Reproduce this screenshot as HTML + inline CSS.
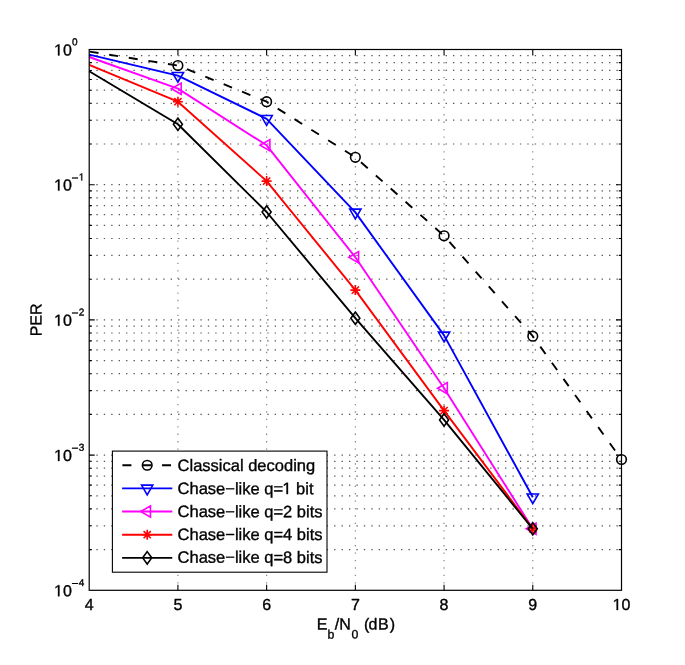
<!DOCTYPE html><html><head><meta charset="utf-8"><style>html,body{margin:0;padding:0;background:#fff;}svg{display:block;will-change:transform;}text{font-family:"Liberation Sans",sans-serif;fill:#000;text-rendering:geometricPrecision;stroke:#000;stroke-width:0.35px;}</style></head><body>
<svg width="685" height="665" viewBox="0 0 685 665">
<rect width="685" height="665" fill="#fff"/>
<g stroke="#555" stroke-width="1.2" fill="none"><line x1="89.20" y1="184.70" x2="621.50" y2="184.70" stroke-dasharray="1.35 6.08" stroke-dashoffset="0.275"/><line x1="89.20" y1="144.00" x2="621.50" y2="144.00" stroke-dasharray="1.35 6.08" stroke-dashoffset="0.275"/><line x1="89.20" y1="120.19" x2="621.50" y2="120.19" stroke-dasharray="1.35 6.08" stroke-dashoffset="0.275"/><line x1="89.20" y1="103.30" x2="621.50" y2="103.30" stroke-dasharray="1.35 6.08" stroke-dashoffset="0.275"/><line x1="89.20" y1="90.20" x2="621.50" y2="90.20" stroke-dasharray="1.35 6.08" stroke-dashoffset="0.275"/><line x1="89.20" y1="79.49" x2="621.50" y2="79.49" stroke-dasharray="1.35 6.08" stroke-dashoffset="0.275"/><line x1="89.20" y1="70.44" x2="621.50" y2="70.44" stroke-dasharray="1.35 6.08" stroke-dashoffset="0.275"/><line x1="89.20" y1="62.60" x2="621.50" y2="62.60" stroke-dasharray="1.35 6.08" stroke-dashoffset="0.275"/><line x1="89.20" y1="55.69" x2="621.50" y2="55.69" stroke-dasharray="1.35 6.08" stroke-dashoffset="0.275"/><line x1="89.20" y1="319.90" x2="621.50" y2="319.90" stroke-dasharray="1.35 6.08" stroke-dashoffset="0.275"/><line x1="89.20" y1="279.20" x2="621.50" y2="279.20" stroke-dasharray="1.35 6.08" stroke-dashoffset="0.275"/><line x1="89.20" y1="255.39" x2="621.50" y2="255.39" stroke-dasharray="1.35 6.08" stroke-dashoffset="0.275"/><line x1="89.20" y1="238.50" x2="621.50" y2="238.50" stroke-dasharray="1.35 6.08" stroke-dashoffset="0.275"/><line x1="89.20" y1="225.40" x2="621.50" y2="225.40" stroke-dasharray="1.35 6.08" stroke-dashoffset="0.275"/><line x1="89.20" y1="214.69" x2="621.50" y2="214.69" stroke-dasharray="1.35 6.08" stroke-dashoffset="0.275"/><line x1="89.20" y1="205.64" x2="621.50" y2="205.64" stroke-dasharray="1.35 6.08" stroke-dashoffset="0.275"/><line x1="89.20" y1="197.80" x2="621.50" y2="197.80" stroke-dasharray="1.35 6.08" stroke-dashoffset="0.275"/><line x1="89.20" y1="190.89" x2="621.50" y2="190.89" stroke-dasharray="1.35 6.08" stroke-dashoffset="0.275"/><line x1="89.20" y1="455.10" x2="621.50" y2="455.10" stroke-dasharray="1.35 6.08" stroke-dashoffset="0.275"/><line x1="89.20" y1="414.40" x2="621.50" y2="414.40" stroke-dasharray="1.35 6.08" stroke-dashoffset="0.275"/><line x1="89.20" y1="390.59" x2="621.50" y2="390.59" stroke-dasharray="1.35 6.08" stroke-dashoffset="0.275"/><line x1="89.20" y1="373.70" x2="621.50" y2="373.70" stroke-dasharray="1.35 6.08" stroke-dashoffset="0.275"/><line x1="89.20" y1="360.60" x2="621.50" y2="360.60" stroke-dasharray="1.35 6.08" stroke-dashoffset="0.275"/><line x1="89.20" y1="349.89" x2="621.50" y2="349.89" stroke-dasharray="1.35 6.08" stroke-dashoffset="0.275"/><line x1="89.20" y1="340.84" x2="621.50" y2="340.84" stroke-dasharray="1.35 6.08" stroke-dashoffset="0.275"/><line x1="89.20" y1="333.00" x2="621.50" y2="333.00" stroke-dasharray="1.35 6.08" stroke-dashoffset="0.275"/><line x1="89.20" y1="326.09" x2="621.50" y2="326.09" stroke-dasharray="1.35 6.08" stroke-dashoffset="0.275"/><line x1="89.20" y1="549.60" x2="621.50" y2="549.60" stroke-dasharray="1.35 6.08" stroke-dashoffset="0.275"/><line x1="89.20" y1="525.79" x2="621.50" y2="525.79" stroke-dasharray="1.35 6.08" stroke-dashoffset="0.275"/><line x1="89.20" y1="508.90" x2="621.50" y2="508.90" stroke-dasharray="1.35 6.08" stroke-dashoffset="0.275"/><line x1="89.20" y1="495.80" x2="621.50" y2="495.80" stroke-dasharray="1.35 6.08" stroke-dashoffset="0.275"/><line x1="89.20" y1="485.09" x2="621.50" y2="485.09" stroke-dasharray="1.35 6.08" stroke-dashoffset="0.275"/><line x1="89.20" y1="476.04" x2="621.50" y2="476.04" stroke-dasharray="1.35 6.08" stroke-dashoffset="0.275"/><line x1="89.20" y1="468.20" x2="621.50" y2="468.20" stroke-dasharray="1.35 6.08" stroke-dashoffset="0.275"/><line x1="89.20" y1="461.29" x2="621.50" y2="461.29" stroke-dasharray="1.35 6.08" stroke-dashoffset="0.275"/></g>
<g stroke="#888" stroke-width="1.2" fill="none"><line x1="177.92" y1="590.30" x2="177.92" y2="49.50" stroke-dasharray="1.35 6.08" stroke-dashoffset="0.675"/><line x1="266.63" y1="590.30" x2="266.63" y2="49.50" stroke-dasharray="1.35 6.08" stroke-dashoffset="0.675"/><line x1="355.35" y1="590.30" x2="355.35" y2="49.50" stroke-dasharray="1.35 6.08" stroke-dashoffset="0.675"/><line x1="444.07" y1="590.30" x2="444.07" y2="49.50" stroke-dasharray="1.35 6.08" stroke-dashoffset="0.675"/><line x1="532.78" y1="590.30" x2="532.78" y2="49.50" stroke-dasharray="1.35 6.08" stroke-dashoffset="0.675"/></g>
<path d="M177.92 590.30v-5.5M177.92 49.50v5.5M266.63 590.30v-5.5M266.63 49.50v5.5M355.35 590.30v-5.5M355.35 49.50v5.5M444.07 590.30v-5.5M444.07 49.50v5.5M532.78 590.30v-5.5M532.78 49.50v5.5M89.20 184.70h5.5M621.50 184.70h-5.5M89.20 144.00h2.7M621.50 144.00h-2.7M89.20 120.19h2.7M621.50 120.19h-2.7M89.20 103.30h2.7M621.50 103.30h-2.7M89.20 90.20h2.7M621.50 90.20h-2.7M89.20 79.49h2.7M621.50 79.49h-2.7M89.20 70.44h2.7M621.50 70.44h-2.7M89.20 62.60h2.7M621.50 62.60h-2.7M89.20 55.69h2.7M621.50 55.69h-2.7M89.20 319.90h5.5M621.50 319.90h-5.5M89.20 279.20h2.7M621.50 279.20h-2.7M89.20 255.39h2.7M621.50 255.39h-2.7M89.20 238.50h2.7M621.50 238.50h-2.7M89.20 225.40h2.7M621.50 225.40h-2.7M89.20 214.69h2.7M621.50 214.69h-2.7M89.20 205.64h2.7M621.50 205.64h-2.7M89.20 197.80h2.7M621.50 197.80h-2.7M89.20 190.89h2.7M621.50 190.89h-2.7M89.20 455.10h5.5M621.50 455.10h-5.5M89.20 414.40h2.7M621.50 414.40h-2.7M89.20 390.59h2.7M621.50 390.59h-2.7M89.20 373.70h2.7M621.50 373.70h-2.7M89.20 360.60h2.7M621.50 360.60h-2.7M89.20 349.89h2.7M621.50 349.89h-2.7M89.20 340.84h2.7M621.50 340.84h-2.7M89.20 333.00h2.7M621.50 333.00h-2.7M89.20 326.09h2.7M621.50 326.09h-2.7M89.20 549.60h2.7M621.50 549.60h-2.7M89.20 525.79h2.7M621.50 525.79h-2.7M89.20 508.90h2.7M621.50 508.90h-2.7M89.20 495.80h2.7M621.50 495.80h-2.7M89.20 485.09h2.7M621.50 485.09h-2.7M89.20 476.04h2.7M621.50 476.04h-2.7M89.20 468.20h2.7M621.50 468.20h-2.7M89.20 461.29h2.7M621.50 461.29h-2.7" stroke="#000" stroke-width="1.1" fill="none"/>
<polyline points="89.20,51.60 177.92,65.50 266.63,101.70 355.35,157.30 444.07,235.80 532.78,336.20 621.50,459.50" fill="none" stroke="#000" stroke-width="1.9" stroke-linejoin="round" stroke-dasharray="9 10.83" stroke-dashoffset="-0.4"/>
<circle cx="177.92" cy="65.50" r="4.8" fill="none" stroke="#000" stroke-width="1.6"/>
<circle cx="266.63" cy="101.70" r="4.8" fill="none" stroke="#000" stroke-width="1.6"/>
<circle cx="355.35" cy="157.30" r="4.8" fill="none" stroke="#000" stroke-width="1.6"/>
<circle cx="444.07" cy="235.80" r="4.8" fill="none" stroke="#000" stroke-width="1.6"/>
<circle cx="532.78" cy="336.20" r="4.8" fill="none" stroke="#000" stroke-width="1.6"/>
<circle cx="621.50" cy="459.50" r="4.8" fill="none" stroke="#000" stroke-width="1.6"/>
<polyline points="89.20,54.60 177.92,75.70 266.63,118.80 355.35,212.40 444.07,335.40 532.78,497.20" fill="none" stroke="#0000ff" stroke-width="1.9" stroke-linejoin="round"/>
<polygon points="177.92,82.20 183.55,72.45 172.29,72.45" fill="none" stroke="#0000ff" stroke-width="1.6" stroke-linejoin="miter"/>
<polygon points="266.63,125.30 272.26,115.55 261.00,115.55" fill="none" stroke="#0000ff" stroke-width="1.6" stroke-linejoin="miter"/>
<polygon points="355.35,218.90 360.98,209.15 349.72,209.15" fill="none" stroke="#0000ff" stroke-width="1.6" stroke-linejoin="miter"/>
<polygon points="444.07,341.90 449.70,332.15 438.44,332.15" fill="none" stroke="#0000ff" stroke-width="1.6" stroke-linejoin="miter"/>
<polygon points="532.78,503.70 538.41,493.95 527.15,493.95" fill="none" stroke="#0000ff" stroke-width="1.6" stroke-linejoin="miter"/>
<polyline points="89.20,57.00 177.92,88.65 266.63,145.30 355.35,257.30 444.07,388.20 532.78,528.80" fill="none" stroke="#ff00ff" stroke-width="1.9" stroke-linejoin="round"/>
<polygon points="171.42,88.65 181.17,83.02 181.17,94.28" fill="none" stroke="#ff00ff" stroke-width="1.6" stroke-linejoin="miter"/>
<polygon points="260.13,145.30 269.88,139.67 269.88,150.93" fill="none" stroke="#ff00ff" stroke-width="1.6" stroke-linejoin="miter"/>
<polygon points="348.85,257.30 358.60,251.67 358.60,262.93" fill="none" stroke="#ff00ff" stroke-width="1.6" stroke-linejoin="miter"/>
<polygon points="437.57,388.20 447.32,382.57 447.32,393.83" fill="none" stroke="#ff00ff" stroke-width="1.6" stroke-linejoin="miter"/>
<polygon points="526.28,528.80 536.03,523.17 536.03,534.43" fill="none" stroke="#ff00ff" stroke-width="1.6" stroke-linejoin="miter"/>
<polyline points="89.20,64.80 177.92,101.70 266.63,181.10 355.35,290.10 444.07,410.60 532.78,528.80" fill="none" stroke="#ff0000" stroke-width="1.9" stroke-linejoin="round"/>
<path d="M172.92 101.70H182.92M177.92 96.70V106.70M174.32 98.10L181.52 105.30M174.32 105.30L181.52 98.10" fill="none" stroke="#ff0000" stroke-width="1.6"/>
<path d="M261.63 181.10H271.63M266.63 176.10V186.10M263.03 177.50L270.23 184.70M263.03 184.70L270.23 177.50" fill="none" stroke="#ff0000" stroke-width="1.6"/>
<path d="M350.35 290.10H360.35M355.35 285.10V295.10M351.75 286.50L358.95 293.70M351.75 293.70L358.95 286.50" fill="none" stroke="#ff0000" stroke-width="1.6"/>
<path d="M439.07 410.60H449.07M444.07 405.60V415.60M440.47 407.00L447.67 414.20M440.47 414.20L447.67 407.00" fill="none" stroke="#ff0000" stroke-width="1.6"/>
<path d="M527.78 528.80H537.78M532.78 523.80V533.80M529.18 525.20L536.38 532.40M529.18 532.40L536.38 525.20" fill="none" stroke="#ff0000" stroke-width="1.6"/>
<polyline points="89.20,71.30 177.92,124.30 266.63,212.00 355.35,318.20 444.07,419.90 532.78,528.80" fill="none" stroke="#000" stroke-width="1.9" stroke-linejoin="round"/>
<polygon points="177.92,118.10 182.42,124.30 177.92,130.50 173.42,124.30" fill="none" stroke="#000" stroke-width="1.6" stroke-linejoin="miter"/>
<polygon points="266.63,205.80 271.13,212.00 266.63,218.20 262.13,212.00" fill="none" stroke="#000" stroke-width="1.6" stroke-linejoin="miter"/>
<polygon points="355.35,312.00 359.85,318.20 355.35,324.40 350.85,318.20" fill="none" stroke="#000" stroke-width="1.6" stroke-linejoin="miter"/>
<polygon points="444.07,413.70 448.57,419.90 444.07,426.10 439.57,419.90" fill="none" stroke="#000" stroke-width="1.6" stroke-linejoin="miter"/>
<polygon points="532.78,522.60 537.28,528.80 532.78,535.00 528.28,528.80" fill="none" stroke="#000" stroke-width="1.6" stroke-linejoin="miter"/>
<rect x="89.2" y="49.5" width="532.30" height="540.80" fill="none" stroke="#000" stroke-width="1.2"/>
<rect x="112.4" y="451.1" width="214.60" height="121.10" fill="#fff" stroke="#000" stroke-width="1.1"/>
<line x1="122.1" y1="465.25" x2="172.3" y2="465.25" stroke="#000" stroke-width="1.9" stroke-dasharray="9 10.81" stroke-dashoffset="-0.3"/>
<circle cx="147.20" cy="465.25" r="4.8" fill="none" stroke="#000" stroke-width="1.6"/>
<text x="177.6" y="471.0" font-size="16.5" transform="rotate(0.05 177.6 471.0)">Classical decoding</text>
<line x1="122.1" y1="488.40" x2="172.3" y2="488.40" stroke="#0000ff" stroke-width="1.9"/>
<polygon points="147.20,494.90 152.83,485.15 141.57,485.15" fill="none" stroke="#0000ff" stroke-width="1.6" stroke-linejoin="miter"/>
<text x="177.6" y="494.1" font-size="16.5" transform="rotate(0.05 177.6 494.1)">Chase−like q=</text>
<path d="M515 0V1237L197 1010V1180L530 1409H696V0Z" fill="#000" stroke="#000" stroke-width="43.4" transform="translate(282.35 494.10) scale(0.008057 -0.008057)"/>
<text x="296.11" y="494.1" font-size="16.5" transform="rotate(0.05 177.6 494.1)">bit</text>
<line x1="122.1" y1="511.55" x2="172.3" y2="511.55" stroke="#ff00ff" stroke-width="1.9"/>
<polygon points="140.70,511.55 150.45,505.92 150.45,517.18" fill="none" stroke="#ff00ff" stroke-width="1.6" stroke-linejoin="miter"/>
<text x="177.6" y="517.1" font-size="16.5" transform="rotate(0.05 177.6 517.1)">Chase−like q=2 bits</text>
<line x1="122.1" y1="534.70" x2="172.3" y2="534.70" stroke="#ff0000" stroke-width="1.9"/>
<path d="M142.20 534.70H152.20M147.20 529.70V539.70M143.60 531.10L150.80 538.30M143.60 538.30L150.80 531.10" fill="none" stroke="#ff0000" stroke-width="1.6"/>
<text x="177.6" y="540.0" font-size="16.5" transform="rotate(0.05 177.6 540.0)">Chase−like q=4 bits</text>
<line x1="122.1" y1="557.85" x2="172.3" y2="557.85" stroke="#000" stroke-width="1.9"/>
<polygon points="147.20,551.65 151.70,557.85 147.20,564.05 142.70,557.85" fill="none" stroke="#000" stroke-width="1.6" stroke-linejoin="miter"/>
<text x="177.6" y="562.8" font-size="16.5" transform="rotate(0.05 177.6 562.8)">Chase−like q=8 bits</text>
<path d="M515 0V1237L197 1010V1180L530 1409H696V0Z" fill="#000" stroke="#000" stroke-width="44.8" transform="translate(54.00 55.40) scale(0.007812 -0.007812)"/>
<text x="62.90" y="55.40" font-size="16" transform="rotate(0.05 54 55.40)">0<tspan x="71.95" y="45.20" font-size="10">0</tspan></text>
<path d="M515 0V1237L197 1010V1180L530 1409H696V0Z" fill="#000" stroke="#000" stroke-width="71.7" transform="translate(78.80 180.40) scale(0.004883 -0.004883)"/>
<path d="M515 0V1237L197 1010V1180L530 1409H696V0Z" fill="#000" stroke="#000" stroke-width="44.8" transform="translate(54.00 190.60) scale(0.007812 -0.007812)"/>
<text x="62.90" y="190.60" font-size="16" transform="rotate(0.05 54 190.60)">0<tspan x="71.47" y="181.90" font-size="12">−</tspan></text>
<path d="M515 0V1237L197 1010V1180L530 1409H696V0Z" fill="#000" stroke="#000" stroke-width="44.8" transform="translate(54.00 325.80) scale(0.007812 -0.007812)"/>
<text x="62.90" y="325.80" font-size="16" transform="rotate(0.05 54 325.80)">0<tspan x="71.47" y="317.10" font-size="12">−</tspan><tspan x="78.65" y="315.60" font-size="10">2</tspan></text>
<path d="M515 0V1237L197 1010V1180L530 1409H696V0Z" fill="#000" stroke="#000" stroke-width="44.8" transform="translate(54.00 461.00) scale(0.007812 -0.007812)"/>
<text x="62.90" y="461.00" font-size="16" transform="rotate(0.05 54 461.00)">0<tspan x="71.47" y="452.30" font-size="12">−</tspan><tspan x="78.65" y="450.80" font-size="10">3</tspan></text>
<path d="M515 0V1237L197 1010V1180L530 1409H696V0Z" fill="#000" stroke="#000" stroke-width="44.8" transform="translate(54.00 596.20) scale(0.007812 -0.007812)"/>
<text x="62.90" y="596.20" font-size="16" transform="rotate(0.05 54 596.20)">0<tspan x="71.47" y="587.50" font-size="12">−</tspan><tspan x="78.65" y="586.00" font-size="10">4</tspan></text>
<text x="89.20" y="610.0" font-size="16" text-anchor="middle" transform="rotate(0.05 89.20 610.0)">4</text>
<text x="177.92" y="610.0" font-size="16" text-anchor="middle" transform="rotate(0.05 177.92 610.0)">5</text>
<text x="266.63" y="610.0" font-size="16" text-anchor="middle" transform="rotate(0.05 266.63 610.0)">6</text>
<text x="355.35" y="610.0" font-size="16" text-anchor="middle" transform="rotate(0.05 355.35 610.0)">7</text>
<text x="444.07" y="610.0" font-size="16" text-anchor="middle" transform="rotate(0.05 444.07 610.0)">8</text>
<text x="532.78" y="610.0" font-size="16" text-anchor="middle" transform="rotate(0.05 532.78 610.0)">9</text>
<path d="M515 0V1237L197 1010V1180L530 1409H696V0Z" fill="#000" stroke="#000" stroke-width="44.8" transform="translate(612.60 610.00) scale(0.007812 -0.007812)"/>
<text x="621.50" y="610.0" font-size="16" transform="rotate(0.05 621.50 610.0)">0</text>
<text y="629.6" font-size="16" transform="rotate(0.05 355 629.6)"><tspan x="316.7">E</tspan><tspan x="327.4" y="638.5" font-size="12.3">b</tspan><tspan x="334.8 339.3" y="629.6">/N</tspan><tspan x="351.5" y="638.5" font-size="12.3">0</tspan><tspan x="363.9 368.4 378.0 389.7" y="629.6">(dB)</tspan></text>
<text x="0" y="0" font-size="16" text-anchor="middle" transform="translate(41.6 319.9) rotate(-89.95)">PER</text>
</svg></body></html>
